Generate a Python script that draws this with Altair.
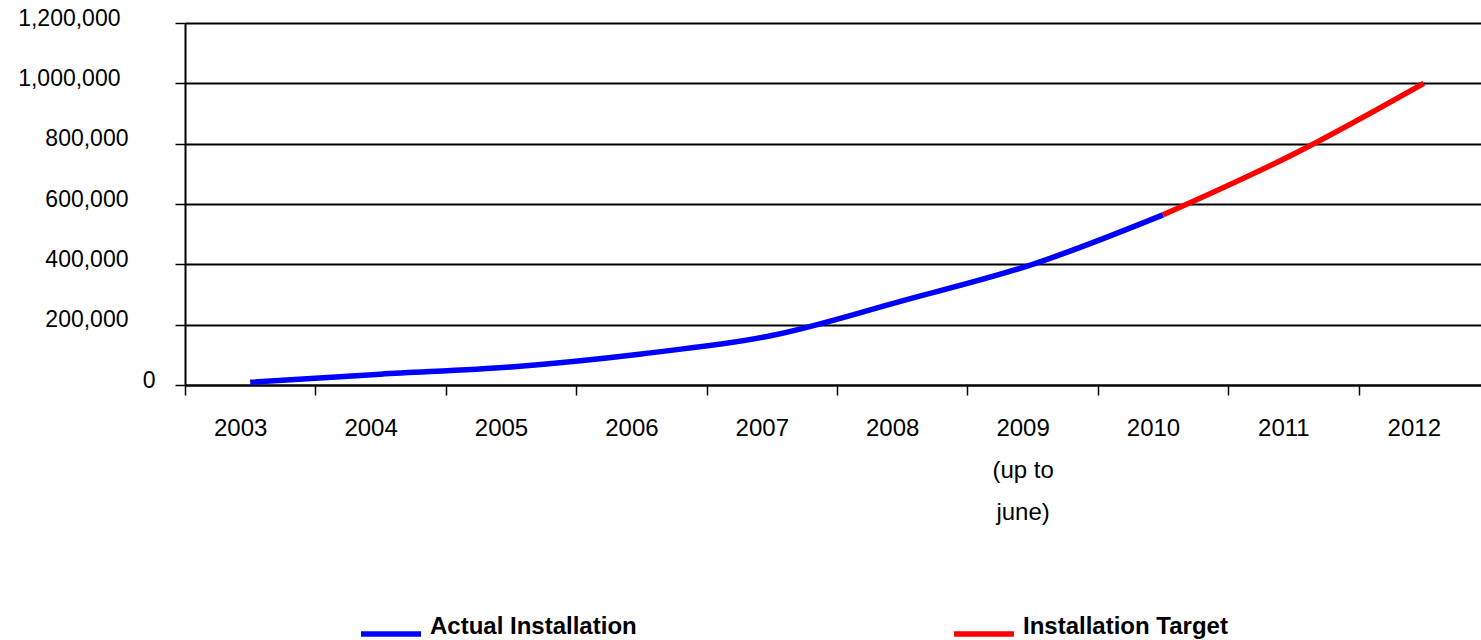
import altair as alt
import pandas as pd

# Categories ("|" marks a line break in the axis label)
categories = ["2003", "2004", "2005", "2006", "2007", "2008",
              "2009|(up to|june)", "2010", "2011", "2012"]

series_names = ["Actual Installation", "Installation Target"]
series_colors = ["#0000FF", "#FF0000"]

actual_years = ["2003", "2004", "2005", "2006", "2007", "2008",
                "2009|(up to|june)", "2010"]
actual_values = [9000, 36000, 60000, 103000, 164000, 279000, 400000, 564000]

target_years = ["2010", "2011", "2012"]
target_values = [564000, 765000, 1000000]

y_ticks = [0, 200000, 400000, 600000, 800000, 1000000, 1200000]

rows = []
for i, (yr, v) in enumerate(zip(actual_years, actual_values)):
    rows.append({"year": yr, "value": v, "series": series_names[0], "ord": i})
for i, (yr, v) in enumerate(zip(target_years, target_values)):
    rows.append({"year": yr, "value": v, "series": series_names[1], "ord": i})
df = pd.DataFrame(rows)

FONT = "Liberation Sans"

chart = alt.Chart(df).mark_line(strokeWidth=5.5, interpolate="monotone").encode(
    x=alt.X(
        "year:N",
        sort=categories,
        bandPosition=0.5,
        scale=alt.Scale(type="band", domain=categories, paddingInner=0,
                        paddingOuter=0, range=[0, 1304]),
        axis=alt.Axis(
            title=None,
            tickBand="extent",
            labelExpr="split(datum.label, '|')",
            labelAngle=0,
            labelFont=FONT,
            labelFontSize=24,
            labelColor="black",
            labelBaseline="top",
            labelLineHeight=42,
            labelOffset=-10,
            labelPadding=21,
            tickSize=10,
            tickColor="black",
            tickWidth=1.5,
            domainColor="black",
            domainWidth=2,
            grid=False,
        ),
    ),
    y=alt.Y(
        "value:Q",
        scale=alt.Scale(domain=[0, 1200000], nice=False),
        axis=alt.Axis(
            title=None,
            values=y_ticks,
            format=",.0f",
            labelFont=FONT,
            labelFontSize=23,
            labelColor="black",
            labelOffset=-5,
            labelPadding={
                "condition": [
                    {"test": "datum.value == 0", "value": 20},
                    {"test": "datum.value >= 1000000", "value": 55},
                ],
                "value": 47,
            },
            tickSize=10,
            tickColor="black",
            tickWidth=1.5,
            domainColor="black",
            domainWidth=2,
            grid=True,
            gridColor="black",
            gridWidth=2,
        ),
    ),
    color=alt.Color(
        "series:N",
        scale=alt.Scale(domain=series_names, range=series_colors),
        legend=alt.Legend(
            title=None,
            orient="none",
            legendX=173,
            legendY=578,
            direction="horizontal",
            symbolType="stroke",
            symbolSize=3600,
            symbolStrokeWidth=5.5,
            labelFont=FONT,
            labelFontSize=24,
            labelFontWeight="bold",
            labelColor="black",
            labelOffset=6,
            labelBaseline="alphabetic",
            columnPadding=306,
            padding=0,
            labelLimit=400,
        ),
    ),
    order="ord:Q",
).properties(
    width=1296,
    height=362,
    autosize=alt.AutoSizeParams(type="none"),
    padding={"left": 185, "top": 23, "right": 0, "bottom": 255},
).configure_view(stroke=None).configure(background="white")

chart.save("out.html", embed_options={"renderer": "svg", "actions": False})
